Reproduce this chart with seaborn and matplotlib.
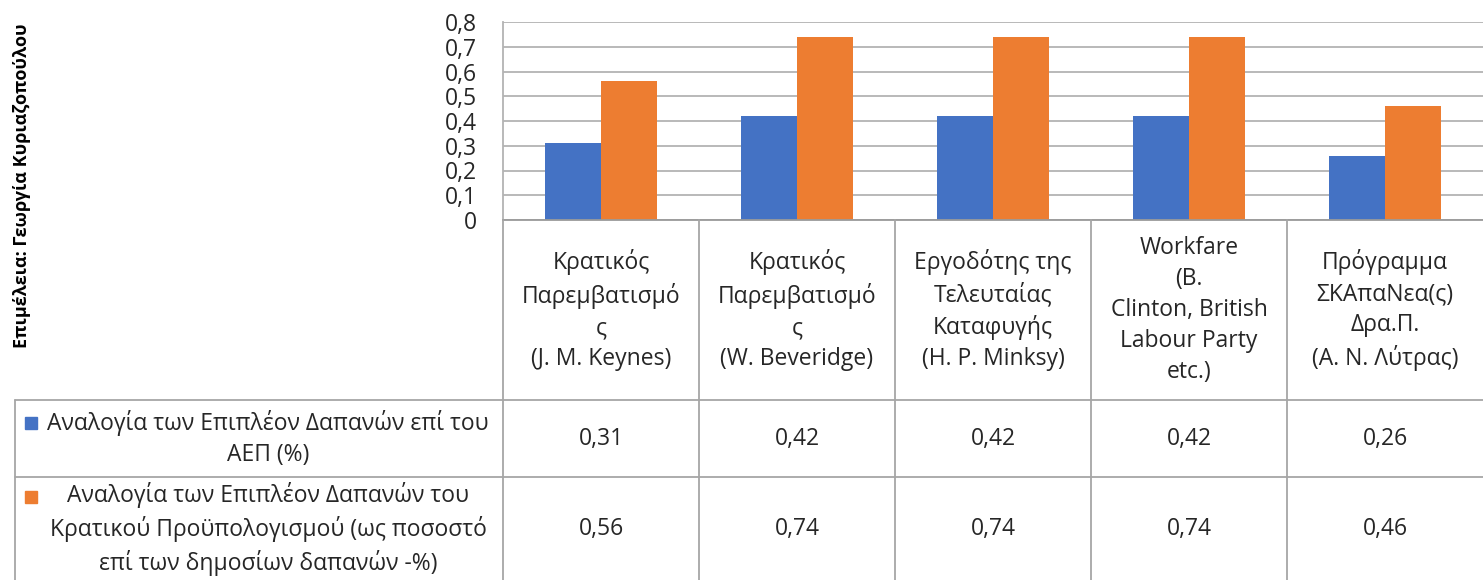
import matplotlib
matplotlib.use("Agg")
import matplotlib.pyplot as plt
import seaborn as sns
import pandas as pd
from matplotlib.patches import Rectangle

# ---------------- data ----------------
categories = [
    "Κρατικός\nΠαρεμβατισμό\nς\n(J. M. Keynes)",
    "Κρατικός\nΠαρεμβατισμό\nς\n(W. Beveridge)",
    "Εργοδότης της\nΤελευταίας\nΚαταφυγής\n(H. P. Minksy)",
    "Workfare\n(B.\nClinton, British\nLabour Party\netc.)",
    "Πρόγραμμα\nΣΚΑπαΝεα(ς)\nΔρα.Π.\n(Α. Ν. Λύτρας)",
]
series_names = [
    "Αναλογία των Επιπλέον Δαπανών επί του\nΑΕΠ (%)",
    "Αναλογία των Επιπλέον Δαπανών του\nΚρατικού Προϋπολογισμού (ως ποσοστό\nεπί των δημοσίων δαπανών -%)",
]
gdp_share = [0.31, 0.42, 0.42, 0.42, 0.26]
budget_share = [0.56, 0.74, 0.74, 0.74, 0.46]
yticks = [0, 0.1, 0.2, 0.3, 0.4, 0.5, 0.6, 0.7, 0.8]
ytick_labels = ["0", "0,1", "0,2", "0,3", "0,4", "0,5", "0,6", "0,7", "0,8"]
credit = "Επιμέλεια: Γεωργία Κυριαζοπούλου"

colors = ["#4472C4", "#ED7D31"]
grid_col = "#b3b3b3"
line_col = "#a6a6a6"
txt_col = "#262626"

sns.set_theme(style="white")
plt.rcParams["font.family"] = ["Open Sans", "DejaVu Sans"]
FS = 16.5

W, H = 1483, 580
fig = plt.figure(figsize=(W / 100, H / 100), dpi=100)
ax = fig.add_axes([503 / W, 1 - 220 / H, 980 / W, 198 / H])

df = pd.DataFrame({
    "cat": categories * 2,
    "value": gdp_share + budget_share,
    "series": [series_names[0]] * len(categories) + [series_names[1]] * len(categories),
})
sns.barplot(data=df, x="cat", y="value", hue="series", palette=colors,
            width=0.57, saturation=1, ax=ax, legend=False, linewidth=0)

ax.set_xlim(-0.5, len(categories) - 0.5)
ax.set_ylim(0, 0.8)
ax.set_yticks(yticks)
ax.set_yticklabels(ytick_labels, fontsize=FS, color=txt_col)
ax.set_xticks([])
ax.set_xlabel("")
ax.set_ylabel("")
ax.tick_params(axis="y", length=0, pad=19)
ax.yaxis.grid(True, color=grid_col, linewidth=1.3)
ax.set_axisbelow(True)
for s in ["top", "right"]:
    ax.spines[s].set_visible(False)
ax.spines["left"].set_color(grid_col)
ax.spines["bottom"].set_color("#9a9a9a")
for s in ["left", "bottom"]:
    ax.spines[s].set_linewidth(1.3)

# ---------------- table overlay ----------------
tab = fig.add_axes([0, 0, 1, 1])
tab.set_xlim(0, W)
tab.set_ylim(H, 0)
tab.axis("off")
tab.patch.set_alpha(0)

fig.canvas.draw()
inv = tab.transData.inverted()
bounds = [inv.transform(ax.transData.transform((i - 0.5, 0)))[0] for i in range(len(categories) + 1)]
axis_y = inv.transform(ax.transData.transform((0, 0)))[1]

header_bottom = 400
row1_bottom = 477
table_left = 15

lw = 1.3
for i, x in enumerate(bounds[:-1]):
    tab.plot([x, x], [axis_y, H], color=line_col, lw=lw)
for y in [header_bottom, row1_bottom]:
    tab.plot([table_left, W], [y, y], color=line_col, lw=lw)
tab.plot([table_left, table_left], [header_bottom, H], color=line_col, lw=lw)

LS = 1.4
row_centers = [(axis_y + header_bottom) / 2, (header_bottom + row1_bottom) / 2, (row1_bottom + H) / 2]
for i, cat in enumerate(categories):
    cx = (bounds[i] + bounds[i + 1]) / 2
    tab.text(cx, row_centers[0], cat, ha="center", va="center", multialignment="center",
             fontsize=FS, color=txt_col, linespacing=LS)
    tab.text(cx, row_centers[1], f"{gdp_share[i]:.2f}".replace(".", ","), ha="center", va="center",
             fontsize=FS, color=txt_col)
    tab.text(cx, row_centers[2], f"{budget_share[i]:.2f}".replace(".", ","), ha="center", va="center",
             fontsize=FS, color=txt_col)

line_px = 32
for r, (name, col) in enumerate(zip(series_names, colors)):
    cy = row_centers[r + 1]
    n = name.count("\n") + 1
    tab.text(268, cy, name, ha="center", va="center", multialignment="center",
             fontsize=FS, color=txt_col, linespacing=LS)
    my = cy - (n - 1) * line_px / 2
    tab.add_patch(Rectangle((25, my - 6), 12, 12, color=col))

tab.text(22, 186, credit, rotation=90, ha="center", va="center", fontsize=13,
         fontweight="bold", color="#000000")

fig.savefig("out.png", dpi=100)
